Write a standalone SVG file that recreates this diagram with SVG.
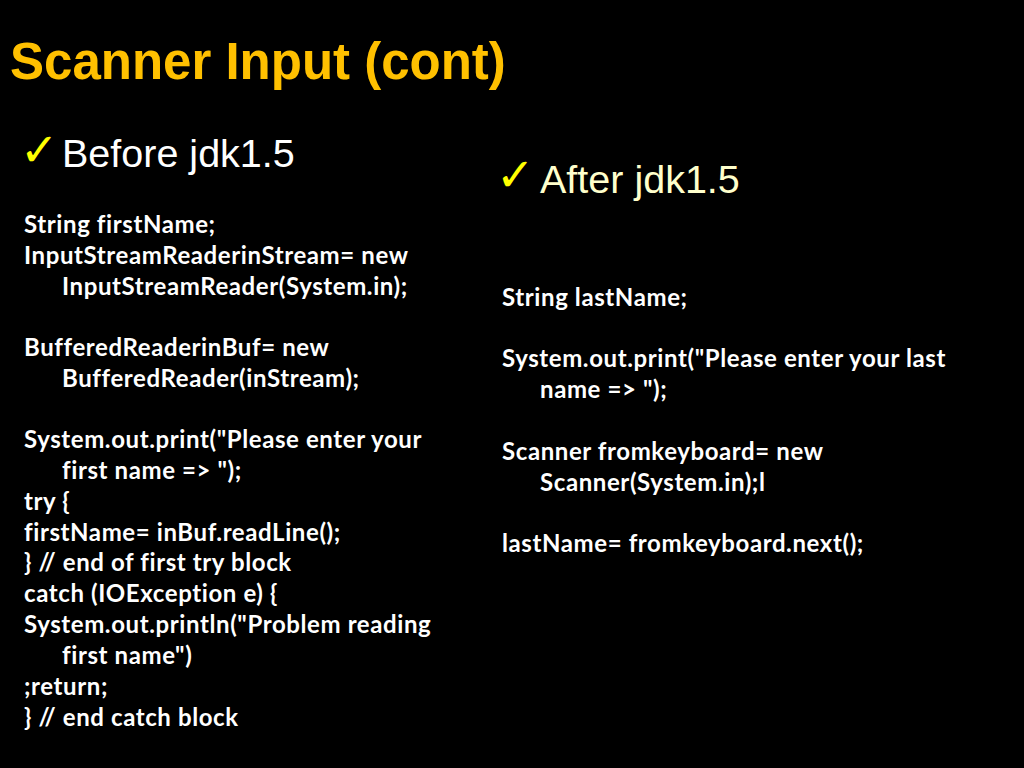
<svg xmlns="http://www.w3.org/2000/svg" width="1024" height="768" viewBox="0 0 1024 768">
<style>
.title{font-family:"Liberation Sans",Arial,sans-serif;font-weight:bold;font-size:51px;fill:#FFC000}
.head{font-family:"Liberation Sans",Arial,sans-serif;font-size:39.5px}
.chk{font-family:"DejaVu Sans",sans-serif;font-size:46px;fill:#FFFF00}
.code{font-family:Lato,"Open Sans",sans-serif;font-weight:bold;font-size:24px;letter-spacing:0.6px;fill:#FFFFFF}
</style>
<rect x="0" y="0" width="1024" height="768" fill="#000000"/>
<g id="title"><text class="title" x="10" y="79">Scanner Input (cont)</text></g>
<g id="left">
<text class="chk" x="20" y="166">✓</text>
<text class="head" x="62" y="167" fill="#FFFFFF">Before jdk1.5</text>
<text class="code" x="24" y="233">String firstName;</text>
<text class="code" x="24" y="264">InputStreamReaderinStream= new</text>
<text class="code" x="62" y="295">InputStreamReader(System.in);</text>
<text class="code" x="24" y="356">BufferedReaderinBuf= new</text>
<text class="code" x="62" y="387">BufferedReader(inStream);</text>
<text class="code" x="24" y="448">System.out.print("Please enter your</text>
<text class="code" x="62" y="479">first name =&gt; ");</text>
<text class="code" x="24" y="510">try {</text>
<text class="code" x="24" y="541">firstName= inBuf.readLine();</text>
<text class="code" x="24" y="571">} // end of first try block</text>
<text class="code" x="24" y="602">catch (IOException e) {</text>
<text class="code" x="24" y="633">System.out.println("Problem reading</text>
<text class="code" x="62" y="664">first name")</text>
<text class="code" x="24" y="695">;return;</text>
<text class="code" x="24" y="726">} // end catch block</text>
</g>
<g id="right">
<text class="chk" x="496" y="191">✓</text>
<text class="head" x="540" y="193" fill="#FFFFCC">After jdk1.5</text>
<text class="code" x="502" y="306">String lastName;</text>
<text class="code" x="502" y="367">System.out.print("Please enter your last</text>
<text class="code" x="540" y="398">name =&gt; ");</text>
<text class="code" x="502" y="460">Scanner fromkeyboard= new</text>
<text class="code" x="540" y="491">Scanner(System.in);l</text>
<text class="code" x="502" y="552">lastName= fromkeyboard.next();</text>
</g>
</svg>
